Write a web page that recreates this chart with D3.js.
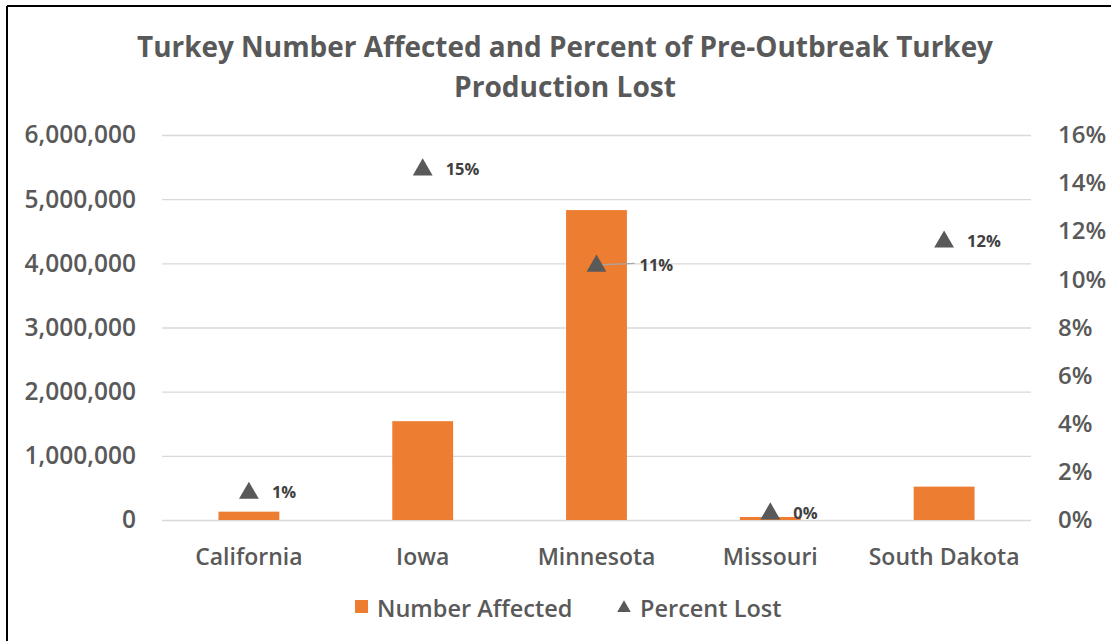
<!DOCTYPE html>
<html><head><meta charset="utf-8">
<script src="https://cdn.jsdelivr.net/npm/d3@7/dist/d3.min.js"></script>
<style>body{margin:0;background:#fff;}svg{display:block;}</style>
</head><body>
<svg id="c" width="1111" height="641"></svg>
<script>
const categories = ["California","Iowa","Minnesota","Missouri","South Dakota"];
const numberAffected = [130000, 1540000, 4830000, 47000, 520000];
const percentLost = [0.0116, 0.146, 0.106, 0.003, 0.116];
const percentLabels = ["1%","15%","11%","0%","12%"];
const leftTicks = [0,1000000,2000000,3000000,4000000,5000000,6000000];
const rightTicks = [0,0.02,0.04,0.06,0.08,0.10,0.12,0.14,0.16];
const titleLines = ["Turkey Number Affected and Percent of Pre-Outbreak Turkey","Production Lost"];
const legendItems = ["Number Affected","Percent Lost"];

const svg = d3.select("#c");
const W=1111,H=641;
const m = {left:162, right:1031, top:135, bottom:520};
const gray="#595959";
const font="'Open Sans', 'DejaVu Sans', sans-serif";
const fw = 600;

// border
svg.append("line").attr("x1",7).attr("x2",W).attr("y1",6).attr("y2",6).attr("stroke","#000").attr("stroke-width",2);
svg.append("line").attr("x1",7).attr("x2",7).attr("y1",6).attr("y2",H).attr("stroke","#000").attr("stroke-width",2);

const x = d3.scaleBand().domain(categories).range([m.left,m.right]).paddingInner(0.65).paddingOuter(0.325);
const xc = d => x(d)+x.bandwidth()/2;
const y = d3.scaleLinear().domain([0,6000000]).range([m.bottom,m.top]);
const y2 = d3.scaleLinear().domain([0,0.16]).range([m.bottom,m.top]);

// title
const tw=[856,222];
titleLines.forEach((t,i)=>{
  svg.append("text").attr("x",565).attr("y",57+i*40).attr("text-anchor","middle")
   .attr("font-family",font).attr("font-weight","bold").attr("font-size",28)
   .attr("fill",gray).attr("textLength",tw[i]).attr("lengthAdjust","spacingAndGlyphs").text(t);
});

// gridlines
const gl = d3.axisLeft(y).tickValues(leftTicks).tickSize(-(m.right-m.left)).tickFormat("");
const g = svg.append("g").attr("transform",`translate(${m.left},0)`).call(gl);
g.select(".domain").remove();
g.selectAll(".tick line").attr("stroke","#d9d9d9").attr("stroke-width",1.3);

// left axis labels
const la = svg.append("g").attr("transform",`translate(${m.left},0)`)
  .call(d3.axisLeft(y).tickValues(leftTicks).tickSize(0).tickPadding(26).tickFormat(d3.format(",")));
la.select(".domain").remove();
la.selectAll("text").attr("font-family",font).attr("font-weight",fw).attr("font-size",24.5).attr("fill",gray);

// right axis labels
const ra = svg.append("g").attr("transform",`translate(${m.right},0)`)
  .call(d3.axisRight(y2).tickValues(rightTicks).tickSize(0).tickPadding(27).tickFormat(d3.format(".0%")));
ra.select(".domain").remove();
ra.selectAll("text").attr("font-family",font).attr("font-weight",fw).attr("font-size",24).attr("fill",gray);

// x axis labels
const xa = svg.append("g").attr("transform",`translate(0,${m.bottom})`)
  .call(d3.axisBottom(x).tickSize(0).tickPadding(29));
xa.select(".domain").remove();
xa.selectAll("text").attr("font-family",font).attr("font-weight",fw).attr("font-size",23).attr("fill",gray);

// bars
svg.append("g").selectAll("rect").data(categories).join("rect")
  .attr("x",d=>x(d)).attr("width",x.bandwidth())
  .attr("y",(d,i)=>y(numberAffected[i])).attr("height",(d,i)=>y(0)-y(numberAffected[i]))
  .attr("fill","#ED7D31");

// leader line for Minnesota
const labOff = categories.map(c=> c==="Minnesota"?43:23);
categories.forEach((c,i)=>{
  if(c==="Minnesota"){
    svg.append("line").attr("x1",xc(c)+1).attr("y1",y2(percentLost[i])).attr("x2",xc(c)+38).attr("y2",y2(percentLost[i])-1.5)
      .attr("stroke","#a6a6a6").attr("stroke-width",1.3);
  }
});

// triangles
const tri = d3.symbol().type(d3.symbolTriangle).size(170);
svg.append("g").selectAll("path").data(categories).join("path")
  .attr("d",tri).attr("transform",(d,i)=>`translate(${xc(d)},${y2(percentLost[i])+1})`).attr("fill",gray);

// data labels
svg.append("g").selectAll("text").data(categories).join("text")
  .attr("x",(d,i)=>xc(d)+labOff[i]).attr("y",(d,i)=>y2(percentLost[i])+6)
  .attr("font-family",font).attr("font-weight","bold").attr("font-size",16.5).attr("fill","#404040")
  .text((d,i)=>percentLabels[i]);

// legend
const lg = svg.append("g");
lg.append("rect").attr("x",355).attr("y",600).attr("width",13).attr("height",13).attr("fill","#ED7D31");
lg.append("text").attr("x",377).attr("y",617).attr("font-family",font).attr("font-weight",fw).attr("font-size",23.5).attr("fill",gray).text(legendItems[0]);
lg.append("path").attr("d",d3.symbol().type(d3.symbolTriangle).size(80)).attr("transform","translate(624,608)").attr("fill",gray);
lg.append("text").attr("x",640).attr("y",617).attr("font-family",font).attr("font-weight",fw).attr("font-size",23.5).attr("fill",gray).text(legendItems[1]);
</script>
</body></html>
